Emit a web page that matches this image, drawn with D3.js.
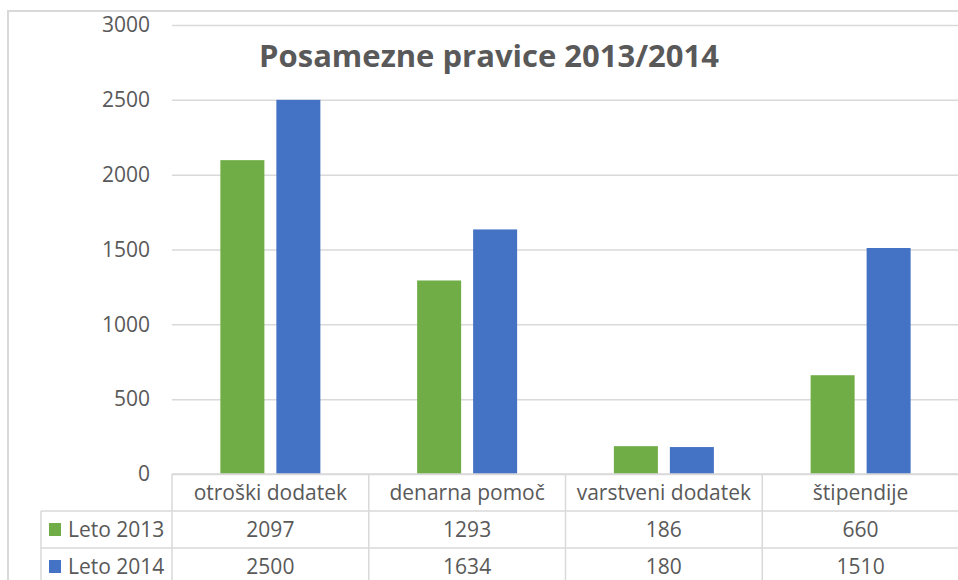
<!DOCTYPE html>
<html>
<head>
<meta charset="utf-8">
<script src="https://cdn.jsdelivr.net/npm/d3@7"></script>
<style>
  html, body { margin: 0; padding: 0; background: #fff; overflow: hidden; }
  text { font-family: "Open Sans", "Noto Sans", sans-serif; fill: #595959; }
</style>
</head>
<body>
<div id="chart-area"></div>
<script>
// Data
const categories = ['otroški dodatek', 'denarna pomoč', 'varstveni dodatek', 'štipendije'];
const seriesNames = ['Leto 2013', 'Leto 2014'];
const leto2013 = [2097, 1293, 186, 660];
const leto2014 = [2500, 1634, 180, 1510];
const yTicks = [0, 500, 1000, 1500, 2000, 2500, 3000];
const colors = ['#70ad47', '#4472c4'];
const title = 'Posamezne pravice 2013/2014';

const width = 958;
const height = 580;
const plot = { left: 172, right: 959, top: 25, bottom: 474 };
const rowH = 37;
const legendLeft = 41;
const gridColor = '#d9d9d9';
const fontSize = 21;

const values = [leto2013, leto2014];

const svg = d3.select('#chart-area')
  .append('svg')
  .attr('width', width)
  .attr('height', height);

// chart area border
svg.append('rect')
  .attr('x', 8)
  .attr('y', 11)
  .attr('width', width + 20)
  .attr('height', height + 20)
  .attr('fill', '#fff')
  .attr('stroke', gridColor)
  .attr('stroke-width', 2);

// Scales
const yScale = d3.scaleLinear()
  .domain([0, 3000])
  .range([plot.bottom, plot.top]);

const xScale = d3.scaleBand()
  .domain(categories)
  .range([plot.left, plot.right]);

const bw = xScale.bandwidth();
const xSub = d3.scaleBand()
  .domain(seriesNames)
  .range([bw / 2 - 50, bw / 2 + 50])
  .paddingInner(0.214);

// Gridlines + y labels
const yAxis = d3.axisLeft(yScale)
  .tickValues(yTicks)
  .tickSize(-(plot.right - plot.left))
  .tickPadding(22)
  .tickFormat(d3.format('d'));

const gY = svg.append('g')
  .attr('transform', `translate(${plot.left}, 0)`)
  .call(yAxis);
gY.select('.domain').remove();
gY.selectAll('.tick line').attr('stroke', gridColor).attr('stroke-width', 1.5);
gY.selectAll('.tick text')
  .attr('font-size', fontSize)
  .attr('fill', '#595959')
  .style('font-family', '"Open Sans", sans-serif');

// Title
svg.append('text')
  .attr('x', 489)
  .attr('y', 67)
  .attr('text-anchor', 'middle')
  .attr('font-size', 31)
  .attr('font-weight', 700)
  .text(title);

// Bars
const groups = svg.append('g')
  .selectAll('g')
  .data(categories)
  .enter()
  .append('g')
  .attr('transform', (d) => `translate(${xScale(d)}, 0)`);

groups.selectAll('rect')
  .data((d, i) => seriesNames.map((s, j) => ({ series: s, value: values[j][i], color: colors[j] })))
  .enter()
  .append('rect')
  .attr('x', (d) => xSub(d.series))
  .attr('width', xSub.bandwidth())
  .attr('y', (d) => yScale(d.value))
  .attr('height', (d) => yScale(0) - yScale(d.value))
  .attr('fill', (d) => d.color);

// Data table
const table = svg.append('g');

// horizontal lines
[0, 1, 2, 3].forEach((r) => {
  const y = plot.bottom + r * rowH;
  table.append('line')
    .attr('x1', r === 0 ? plot.left : legendLeft)
    .attr('x2', width + 5)
    .attr('y1', y)
    .attr('y2', y)
    .attr('stroke', gridColor)
    .attr('stroke-width', 1.5);
});

// vertical lines
categories.forEach((c) => {
  table.append('line')
    .attr('x1', xScale(c))
    .attr('x2', xScale(c))
    .attr('y1', plot.bottom)
    .attr('y2', height + 5)
    .attr('stroke', gridColor)
    .attr('stroke-width', 1.5);
});
table.append('line')
  .attr('x1', legendLeft)
  .attr('x2', legendLeft)
  .attr('y1', plot.bottom + rowH)
  .attr('y2', height + 5)
  .attr('stroke', gridColor)
  .attr('stroke-width', 1.5);

// category header
table.selectAll('.cat')
  .data(categories)
  .enter()
  .append('text')
  .attr('class', 'cat')
  .attr('x', (d) => xScale(d) + bw / 2)
  .attr('y', plot.bottom + rowH / 2)
  .attr('dy', '0.35em')
  .attr('text-anchor', 'middle')
  .attr('font-size', fontSize)
  .text((d) => d);

// value rows
seriesNames.forEach((s, j) => {
  const yMid = plot.bottom + rowH * (j + 1) + rowH / 2;
  table.append('rect')
    .attr('x', 49)
    .attr('y', yMid - 6.5)
    .attr('width', 12)
    .attr('height', 13)
    .attr('fill', colors[j]);
  table.append('text')
    .attr('x', 68)
    .attr('y', yMid)
    .attr('dy', '0.35em')
    .attr('font-size', fontSize)
    .text(s);
  table.selectAll(`.val${j}`)
    .data(values[j])
    .enter()
    .append('text')
    .attr('x', (d, i) => xScale(categories[i]) + bw / 2)
    .attr('y', yMid)
    .attr('dy', '0.35em')
    .attr('text-anchor', 'middle')
    .attr('font-size', fontSize)
    .text((d) => d);
});
</script>
</body>
</html>
